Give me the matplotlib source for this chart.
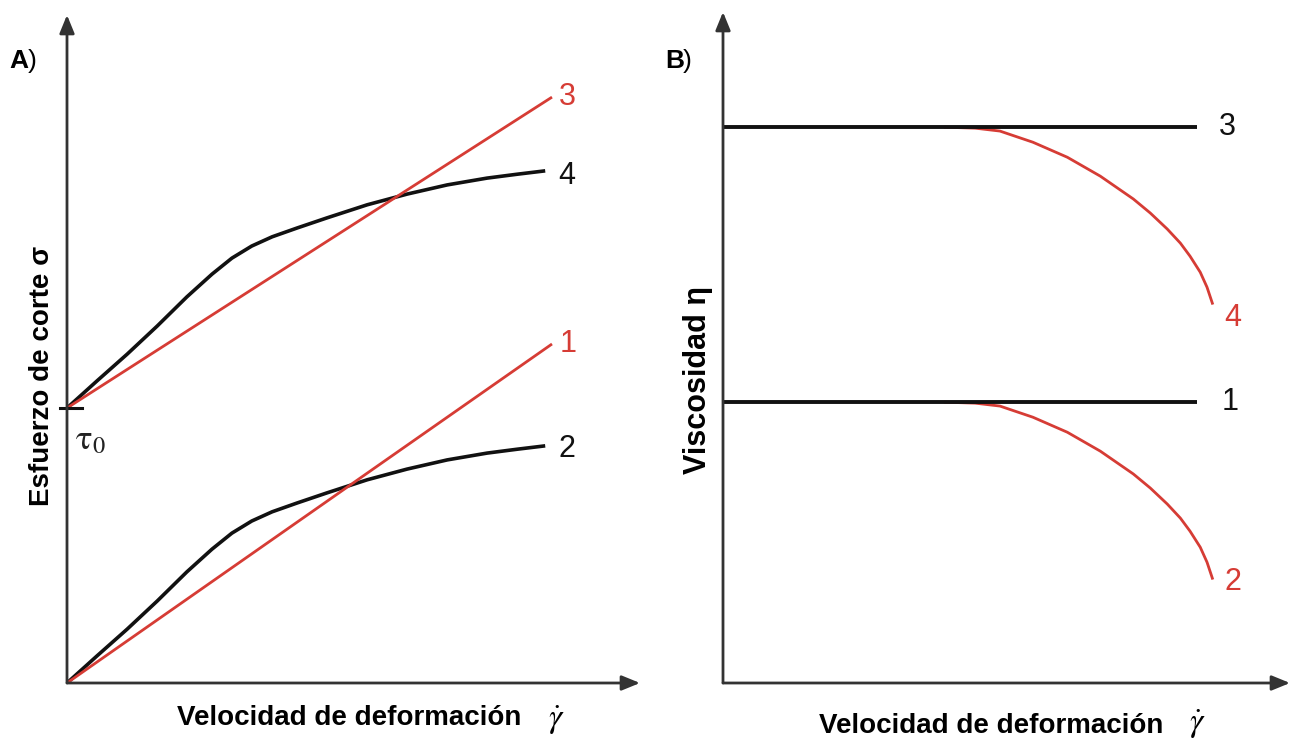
import matplotlib
matplotlib.use('Agg')
import matplotlib.pyplot as plt

plt.rcParams['font.family'] = ['Liberation Sans', 'DejaVu Sans']
plt.rcParams['mathtext.fontset'] = 'stix'

RED = '#d63c35'
BLACK = '#111111'
AXIS = '#333333'

# A) shear stress vs shear rate
TAU0 = 5.67
RATE_LIN = [0, 10]
STRESS_1 = [0, 6.99]            # Newtonian
STRESS_3 = [TAU0, 12.08]        # Bingham
RATE_CURVE = [0, 0.62, 1.24, 1.86, 2.47, 2.99, 3.40, 3.81, 4.23, 4.74, 5.36,
              6.19, 7.01, 7.84, 8.66, 9.28, 9.86]
STRESS_2 = [0, 0.56, 1.11, 1.69, 2.29, 2.76, 3.09, 3.34, 3.53, 3.71, 3.92,
            4.19, 4.41, 4.60, 4.74, 4.82, 4.89]   # pseudoplastic
STRESS_4 = [TAU0 + s for s in STRESS_2]

# B) viscosity vs shear rate
RATE_FLAT = [0, 9.77]
VISC_3 = 11.46
VISC_1 = 5.79
RATE_DROP = [4.58, 5.20, 5.71, 6.39, 7.10, 7.78, 8.46, 8.81, 9.16, 9.43,
             9.63, 9.84, 9.98, 10.09]
VISC_DROP = [0, 0.02, 0.08, 0.31, 0.62, 1.01, 1.48, 1.77, 2.10, 2.39, 2.66,
             2.99, 3.30, 3.63]
VISC_4 = [VISC_3 - d for d in VISC_DROP]
VISC_2 = [VISC_1 - d for d in VISC_DROP]

W, H = 1299, 743


def fx(px):
    return px / W


def fy(py):
    return 1 - py / H


def draw_axes_arrows(ax):
    ax.axis('off')
    style = '-|>,head_length=1.1,head_width=0.45'
    for tip in [(0, 1), (1, 0)]:
        ax.annotate('', xy=tip, xytext=(0, 0), xycoords='axes fraction',
                    arrowprops=dict(arrowstyle=style, lw=2.0, color=AXIS,
                                    shrinkA=0, shrinkB=0))


def curve_label(ax, x, y, text, color):
    ax.text(x, y, text, color=color, fontsize=22, ha='center', va='center',
            family=['Liberation Sans Narrow', 'Liberation Sans'])


fig = plt.figure(figsize=(W / 100, H / 100), dpi=100)

ax_a = fig.add_axes([fx(67), fy(683), 573 / W, 668 / H])
ax_a.set_xlim(0, 573 / 48.5)
ax_a.set_ylim(0, 668 / 48.5)
draw_axes_arrows(ax_a)

ax_a.plot(RATE_CURVE, STRESS_4, color=BLACK, lw=2.6, solid_capstyle='butt')
ax_a.plot(RATE_CURVE, STRESS_2, color=BLACK, lw=2.6, solid_capstyle='butt')
ax_a.plot(RATE_LIN, STRESS_3, color=RED, lw=2.0, solid_capstyle='butt')
ax_a.plot(RATE_LIN, STRESS_1, color=RED, lw=2.0, solid_capstyle='butt')
ax_a.plot([-0.14, 0.3], [TAU0, TAU0], color=BLACK, lw=2.2, clip_on=False)
ax_a.text(0.17, TAU0 - 0.66, r'$\mathrm{\tau}_0$', fontsize=25, color='#222222',
          ha='left', va='center')

curve_label(ax_a, 10.31, STRESS_3[-1], '3', RED)
curve_label(ax_a, 10.31, STRESS_4[-1] - 0.1, '4', BLACK)
curve_label(ax_a, 10.33, STRESS_1[-1], '1', RED)
curve_label(ax_a, 10.31, STRESS_2[-1] - 0.07, '2', BLACK)

ax_b = fig.add_axes([fx(723), fy(683), 567 / W, 671 / H])
ax_b.set_xlim(0, 567 / 48.5)
ax_b.set_ylim(0, 671 / 48.5)
draw_axes_arrows(ax_b)

ax_b.plot(RATE_DROP, VISC_4, color=RED, lw=2.0)
ax_b.plot(RATE_DROP, VISC_2, color=RED, lw=2.0)
ax_b.plot(RATE_FLAT, [VISC_3, VISC_3], color=BLACK, lw=2.8, solid_capstyle='butt')
ax_b.plot(RATE_FLAT, [VISC_1, VISC_1], color=BLACK, lw=2.8, solid_capstyle='butt')

curve_label(ax_b, 10.39, VISC_3, '3', BLACK)
curve_label(ax_b, 10.52, VISC_4[-1] - 0.3, '4', RED)
curve_label(ax_b, 10.45, VISC_1, '1', BLACK)
curve_label(ax_b, 10.52, VISC_2[-1] - 0.07, '2', RED)

# panel letters
fig.text(fx(9), fy(61), 'A', fontsize=19, fontweight='bold', ha='left', va='center')
fig.text(fx(28), fy(61), ')', fontsize=19, ha='left', va='center')
fig.text(fx(665), fy(61), 'B', fontsize=19, fontweight='bold', ha='left', va='center')
fig.text(fx(683), fy(61), ')', fontsize=19, ha='left', va='center')

# axis titles
xlab = 'Velocidad de deformación'
gdot = '$\\dot{\\gamma}$'
fig.text(fx(349), fy(718), xlab, fontsize=20, fontweight='bold',
         ha='center', va='center')
fig.text(fx(556), fy(720), gdot, fontsize=24, ha='center', va='center')
fig.text(fx(991), fy(726), xlab, fontsize=20, fontweight='bold',
         ha='center', va='center')
fig.text(fx(1197), fy(724), gdot, fontsize=24, ha='center', va='center')
fig.text(fx(42), fy(376), 'Esfuerzo de corte σ', fontsize=20,
         fontweight='bold', rotation=90, ha='center', va='center')
fig.text(fx(698), fy(380), 'Viscosidad η', fontsize=22,
         fontweight='bold', rotation=90, ha='center', va='center')

fig.savefig('out.png', dpi=100)
